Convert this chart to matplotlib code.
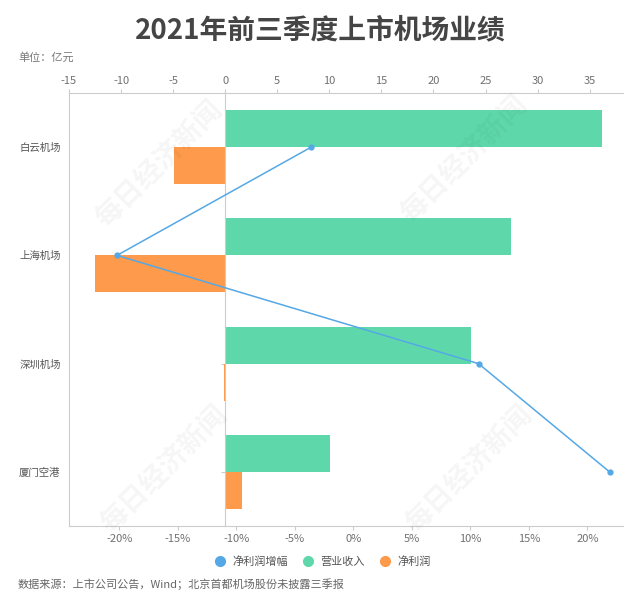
import numpy as np
import matplotlib.pyplot as plt
from matplotlib.lines import Line2D

plt.rcParams['font.family'] = ['Noto Sans CJK SC', 'DejaVu Sans']
plt.rcParams['axes.unicode_minus'] = False

# 数据（单位：亿元 / %）
airports = ['白云机场', '上海机场', '深圳机场', '厦门空港']
revenue = [36.2, 27.4, 23.6, 10.1]
net_profit = [-4.9, -12.5, -0.08, 1.6]
profit_growth = [-3.6, -20.2, 10.7, 21.9]
top_ticks = [-15, -10, -5, 0, 5, 10, 15, 20, 25, 30, 35]
bottom_ticks = [-20, -15, -10, -5, 0, 5, 10, 15, 20]

green = '#5ed8aa'
orange = '#fd9a4b'
blue = '#55a8e6'
grey = '#cccccc'
txt = '#707070'

fig = plt.figure(figsize=(6.4, 6.1), dpi=100)
ax = fig.add_axes([69 / 640, 1 - 526 / 610, (623 - 69) / 640, (526 - 93) / 610])
ax2 = ax.twiny()

y = np.arange(len(airports))
h = 0.342
ax.barh(y - h / 2, revenue, height=h, color=green, zorder=2)
ax.barh(y + h / 2, net_profit, height=h, color=orange, zorder=2)

ax.set_xlim(-15, 38.2)
ax.set_ylim(len(airports) - 0.5, -0.5)
ax.xaxis.tick_top()
ax.set_xticks(top_ticks)
ax.tick_params(axis='x', colors=grey, labelcolor=txt, labelsize=8, length=3, pad=2)

# y轴：标签在左侧，刻度在0线上
ax.set_yticks(y)
ax.set_yticklabels(airports)
ax.spines['right'].set_position(('data', 0))
ax.yaxis.set_ticks_position('both')
ax.tick_params(axis='y', left=False, right=True, labelleft=True, labelright=False,
               direction='in', length=3, colors=grey, labelcolor='#555555',
               labelsize=7.5, pad=6)
for s in ['left', 'right', 'top']:
    ax.spines[s].set_color(grey)
    ax.spines[s].set_linewidth(0.8)
ax.spines['bottom'].set_visible(False)

# 净利润增幅折线（下方百分比轴）
ax2.plot(profit_growth, y, color=blue, lw=1.1, marker='o', ms=3.5, zorder=3)
ax2.set_xlim(-24.3, 23.05)
ax2.set_ylim(len(airports) - 0.5, -0.5)
ax2.xaxis.tick_bottom()
ax2.set_xticks(bottom_ticks)
ax2.set_xticklabels([f'{t}%' for t in bottom_ticks])
ax2.tick_params(axis='x', colors=grey, labelcolor=txt, labelsize=8, length=3, pad=3)
for s in ['left', 'right', 'top']:
    ax2.spines[s].set_visible(False)
ax2.spines['bottom'].set_visible(True)
ax2.spines['bottom'].set_color(grey)
ax2.spines['bottom'].set_linewidth(0.8)

# 水印
for wx, wy in [(160, 165), (465, 160), (165, 470), (470, 470)]:
    fig.text(wx / 640, 1 - wy / 610, '每日经济新闻', rotation=45, fontsize=20,
             fontweight='bold', color='#000000', alpha=0.04,
             ha='center', va='center', zorder=10)

fig.text(0.5, 1 - 30 / 610, '2021年前三季度上市机场业绩', ha='center', va='center',
         fontsize=20, fontweight='bold', color='#454545')
fig.text(18 / 640, 1 - 57 / 610, '单位：亿元', ha='left', va='center',
         fontsize=8, color='#777777')
fig.text(18 / 640, 1 - 584 / 610, '数据来源：上市公司公告，Wind；北京首都机场股份未披露三季报',
         ha='left', va='center', fontsize=8, color='#666666')

handles = [Line2D([], [], ls='none', marker='o', ms=7, color=c) for c in (blue, green, orange)]
fig.legend(handles, ['净利润增幅', '营业收入', '净利润'], loc='center',
           bbox_to_anchor=(0.5, 1 - 562 / 610), ncol=3, frameon=False,
           fontsize=8, handletextpad=0.1, columnspacing=0.8, labelcolor='#555555')

fig.savefig('out.png', dpi=100, facecolor='white')
